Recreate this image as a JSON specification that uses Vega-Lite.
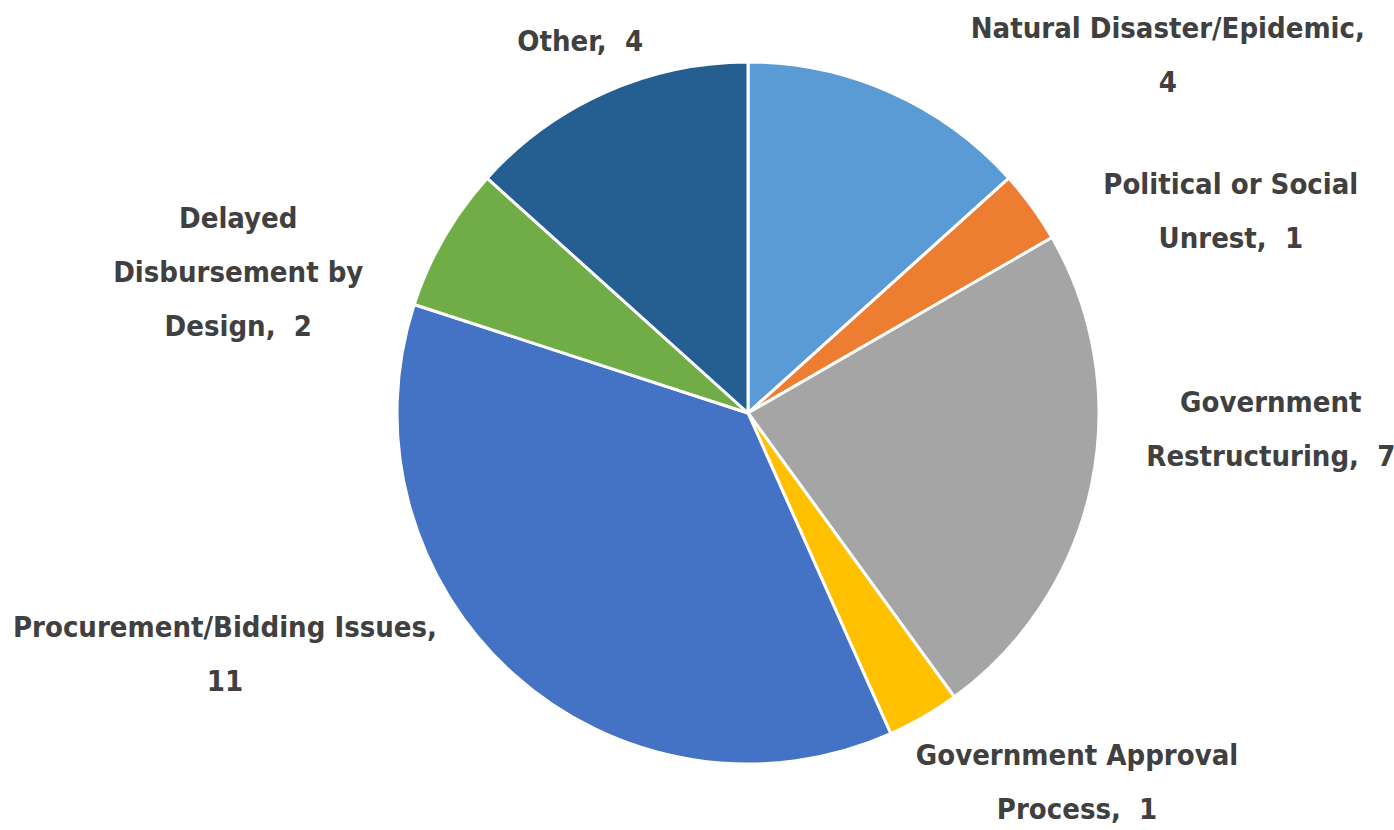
{
  "$schema": "https://vega.github.io/schema/vega-lite/v6.json",
  "width": 1292,
  "height": 822,
  "autosize": {"type": "none"},
  "padding": {"left": 102, "top": 2, "right": 0, "bottom": 6},
  "background": "white",
  "view": {"stroke": null},
  "config": {
    "text": {"align": "center", "baseline": "middle", "lineBreak": "\n", "lineHeight": 54, "font": "Noto Sans Condensed, DejaVu Sans Condensed, sans-serif", "fontWeight": "bold", "fontSize": 29, "color": "#404040", "radius": 420}
  },
  "data": {
    "values": [
      {"idx": 1, "cat": "Natural Disaster/Epidemic", "value": 4, "lbl": "Natural Disaster/Epidemic,\n4"},
      {"idx": 2, "cat": "Political or Social Unrest", "value": 1, "lbl": "Political or Social\nUnrest,\u00a0\u00a01"},
      {"idx": 3, "cat": "Government Restructuring", "value": 7, "lbl": "Government\nRestructuring,\u00a0\u00a07"},
      {"idx": 4, "cat": "Government Approval Process", "value": 1, "lbl": "Government Approval\nProcess,\u00a0\u00a01"},
      {"idx": 5, "cat": "Procurement/Bidding Issues", "value": 11, "lbl": "Procurement/Bidding Issues,\n11"},
      {"idx": 6, "cat": "Delayed Disbursement by Design", "value": 2, "lbl": "Delayed\nDisbursement by\nDesign,\u00a0\u00a02"},
      {"idx": 7, "cat": "Other", "value": 4, "lbl": "Other,\u00a0\u00a04"}
    ]
  },
  "encoding": {
    "theta": {"field": "value", "type": "quantitative", "stack": true},
    "order": {"field": "idx", "type": "quantitative", "sort": "ascending"}
  },
  "layer": [
    {
      "mark": {"type": "arc", "outerRadius": 351, "stroke": "white", "strokeWidth": 3},
      "encoding": {
        "color": {
          "field": "cat",
          "type": "nominal",
          "legend": null,
          "scale": {
            "domain": ["Natural Disaster/Epidemic", "Political or Social Unrest", "Government Restructuring", "Government Approval Process", "Procurement/Bidding Issues", "Delayed Disbursement by Design", "Other"],
            "range": ["#5B9BD5", "#ED7D31", "#A5A5A5", "#FFC000", "#4472C4", "#70AD47", "#255E91"]
          }
        }
      }
    },
    {
      "mark": {"type": "text", "dx": 249, "dy": 0},
      "encoding": {"detail": {"field": "cat"}, "text": {"condition": {"test": "datum.idx === 1", "field": "lbl"}, "value": ""}}
    },
    {
      "mark": {"type": "text", "dx": 143, "dy": 19},
      "encoding": {"detail": {"field": "cat"}, "text": {"condition": {"test": "datum.idx === 2", "field": "lbl"}, "value": ""}}
    },
    {
      "mark": {"type": "text", "dx": 112, "dy": -97},
      "encoding": {"detail": {"field": "cat"}, "text": {"condition": {"test": "datum.idx === 3", "field": "lbl"}, "value": ""}}
    },
    {
      "mark": {"type": "text", "dx": 119, "dy": -21},
      "encoding": {"detail": {"field": "cat"}, "text": {"condition": {"test": "datum.idx === 4", "field": "lbl"}, "value": ""}}
    },
    {
      "mark": {"type": "text", "dx": -242, "dy": -97},
      "encoding": {"detail": {"field": "cat"}, "text": {"condition": {"test": "datum.idx === 5", "field": "lbl"}, "value": ""}}
    },
    {
      "mark": {"type": "text", "dx": -146, "dy": 16},
      "encoding": {"detail": {"field": "cat"}, "text": {"condition": {"test": "datum.idx === 6", "field": "lbl"}, "value": ""}}
    },
    {
      "mark": {"type": "text", "dx": 3, "dy": 13},
      "encoding": {"detail": {"field": "cat"}, "text": {"condition": {"test": "datum.idx === 7", "field": "lbl"}, "value": ""}}
    }
  ]
}
